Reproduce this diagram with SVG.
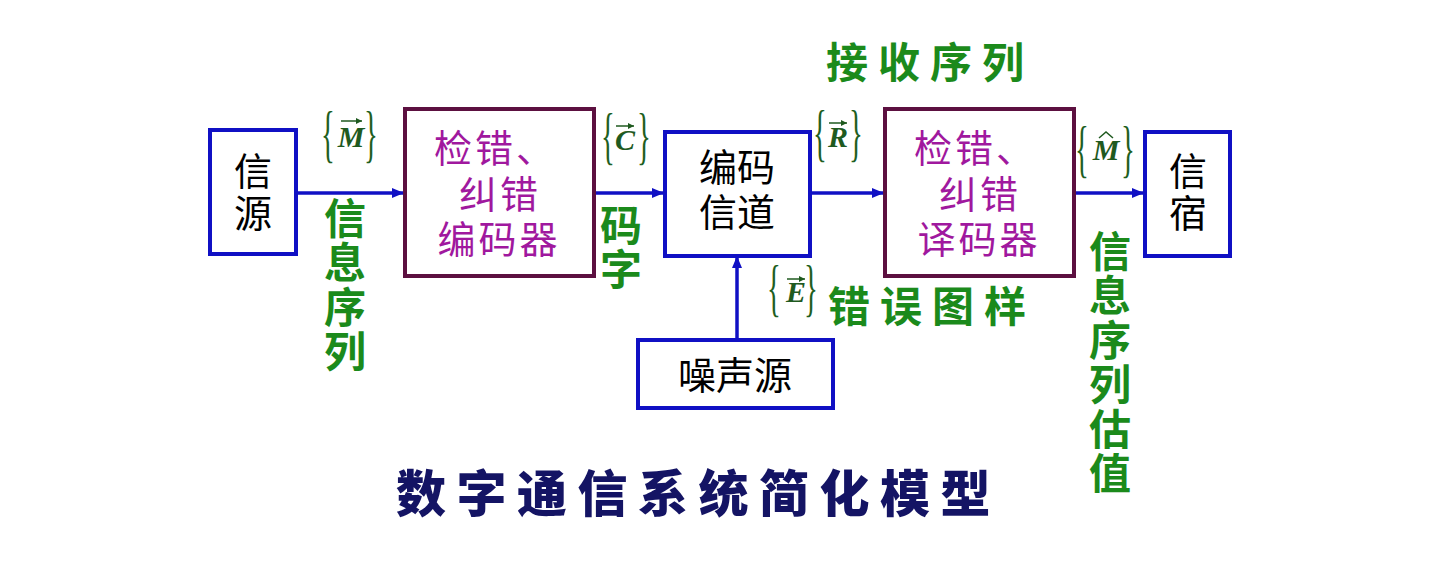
<svg xmlns="http://www.w3.org/2000/svg" width="1440" height="579" viewBox="0 0 1440 579">
<style>
.bb{fill:#fff;stroke:#1010c4;stroke-width:4}
.mb{fill:#fff;stroke:#5c1040;stroke-width:4}
.bk{font-family:"Noto Sans CJK SC","Noto Sans",sans-serif;font-size:38px;fill:#000;text-anchor:middle}
.bv{font-family:"Noto Sans CJK SC","Noto Sans",sans-serif;font-size:38px;fill:#000;writing-mode:vertical-rl;letter-spacing:4px}
.mg{font-family:"Noto Sans CJK SC","Noto Sans",sans-serif;font-size:38px;fill:#a0189e;letter-spacing:3px}
.gr{font-family:"Noto Sans CJK SC","Noto Sans",sans-serif;font-size:42px;font-weight:700;fill:#1b8a1b;writing-mode:vertical-rl;letter-spacing:2.5px}
.gh{font-family:"Noto Sans CJK SC","Noto Sans",sans-serif;font-size:42px;font-weight:700;fill:#1b8a1b;letter-spacing:10px}
.br{font-family:"Liberation Serif",serif;font-size:64px;fill:#1f5f1f}
.mv{font-family:"Liberation Serif",serif;font-size:30px;font-style:italic;font-weight:700;fill:#1f5a1f;text-anchor:middle}
.ti{font-family:"Noto Sans CJK SC","Noto Sans",sans-serif;font-size:50px;font-weight:900;fill:#141464;letter-spacing:10.5px}
.cn{stroke:#1010c4;stroke-width:3.5;fill:none}
.ac{stroke:#1f5a1f;stroke-width:1.5;fill:none}
</style>
<defs>
<marker id="ah" viewBox="0 0 12 10" refX="12" refY="5" markerWidth="12" markerHeight="10" markerUnits="userSpaceOnUse" orient="auto">
<path d="M0,0 L12,5 L0,10 Z" fill="#1010c4"/>
</marker>
<marker id="sa" viewBox="0 0 6 6" refX="6" refY="3" markerWidth="6" markerHeight="6" markerUnits="userSpaceOnUse" orient="auto">
<path d="M0,0 L6,3 L0,6 Z" fill="#1f5a1f"/>
</marker>
</defs>
<rect width="1440" height="579" fill="#fff"/>

<g id="connectors">
<line class="cn" x1="295" y1="193" x2="404" y2="193" marker-end="url(#ah)"/>
<line class="cn" x1="595" y1="193" x2="664" y2="193" marker-end="url(#ah)"/>
<line class="cn" x1="810" y1="193" x2="884" y2="193" marker-end="url(#ah)"/>
<line class="cn" x1="1075" y1="193" x2="1144" y2="193" marker-end="url(#ah)"/>
<line class="cn" x1="737" y1="339" x2="737" y2="256" marker-end="url(#ah)"/>
</g>

<g id="source">
<rect class="bb" x="210" y="130" width="86" height="124"/>
<text class="bv" x="253" y="152">信源</text>
</g>

<g id="encoder">
<rect class="mb" x="405" y="109" width="189" height="167"/>
<text class="mg"><tspan x="434" y="162">检错、</tspan><tspan x="500" y="208" text-anchor="middle">纠错</tspan><tspan x="499" y="253" text-anchor="middle">编码器</tspan></text>
</g>

<g id="channel">
<rect class="bb" x="665" y="132" width="145" height="124"/>
<text class="bk"><tspan x="737" y="181">编码</tspan><tspan x="737" y="226">信道</tspan></text>
</g>

<g id="noise">
<rect class="bb" x="638" y="340" width="195" height="68"/>
<text class="bk" x="735" y="389">噪声源</text>
</g>

<g id="decoder">
<rect class="mb" x="885" y="109" width="189" height="167"/>
<text class="mg"><tspan x="914" y="162">检错、</tspan><tspan x="980" y="208" text-anchor="middle">纠错</tspan><tspan x="979" y="253" text-anchor="middle">译码器</tspan></text>
</g>

<g id="sink">
<rect class="bb" x="1145" y="132" width="85" height="124"/>
<text class="bv" x="1188" y="152">信宿</text>
</g>

<g id="labels">
<text class="br" transform="translate(321,155) scale(0.45,1)">{</text>
<text class="mv" x="351" y="147">M</text>
<line class="ac" x1="341" y1="121" x2="362" y2="121" marker-end="url(#sa)"/>
<text class="br" transform="translate(364,155) scale(0.45,1)">}</text>

<text class="br" transform="translate(601,157) scale(0.45,1)">{</text>
<text class="mv" x="625" y="150">C</text>
<line class="ac" x1="616" y1="126" x2="634" y2="126" marker-end="url(#sa)"/>
<text class="br" transform="translate(637,157) scale(0.45,1)">}</text>

<text class="br" transform="translate(813,154) scale(0.45,1)">{</text>
<text class="mv" x="838" y="147">R</text>
<line class="ac" x1="829" y1="123" x2="847" y2="123" marker-end="url(#sa)"/>
<text class="br" transform="translate(849,154) scale(0.45,1)">}</text>

<text class="br" transform="translate(1075,170) scale(0.45,1)">{</text>
<text class="mv" x="1106" y="160">M</text>
<path class="ac" d="M1099,138 L1106,132 L1113,138"/>
<text class="br" transform="translate(1121,170) scale(0.45,1)">}</text>

<text class="br" transform="translate(767,309) scale(0.45,1)">{</text>
<text class="mv" x="796" y="302">E</text>
<line class="ac" x1="787" y1="279" x2="805" y2="279" marker-end="url(#sa)"/>
<text class="br" transform="translate(804,309) scale(0.45,1)">}</text>

<text class="gh" x="826" y="78">接收序列</text>
<text class="gh" x="828" y="322">错误图样</text>
<text class="gr" x="345" y="197">信息序列</text>
<text class="gr" x="621" y="204">码字</text>
<text class="gr" x="1110" y="230">信息序列估值</text>
</g>

<text class="ti" x="396" y="512">数字通信系统简化模型</text>
</svg>
